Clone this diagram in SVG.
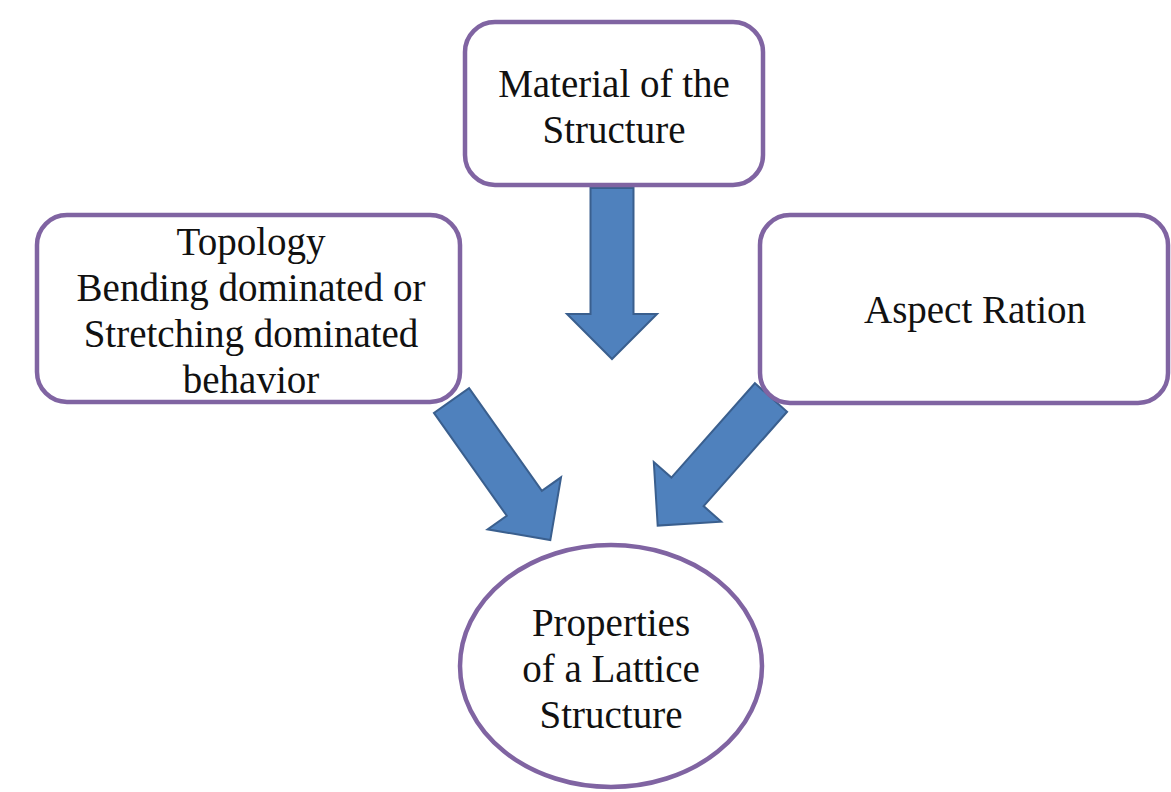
<svg xmlns="http://www.w3.org/2000/svg" xmlns:xlink="http://www.w3.org/1999/xlink" width="1171" height="792" viewBox="0 0 1171 792">
<style>
.box{fill:#fff;stroke:#8064A2;stroke-width:4.5}
.arrow{fill:#4F81BD;stroke:#3A5F8E;stroke-width:2;stroke-linejoin:miter}
.t{font-family:"Liberation Serif","Times New Roman",serif;font-size:39px;fill:#111;text-anchor:middle}
</style>
<defs>
<path id="blockArrow" d="M0,-21.5 L126,-21.5 L126,-45 L171,0 L126,45 L126,21.5 L0,21.5 Z"/>
</defs>
<rect width="1171" height="792" fill="#fff"/>
<g id="connectors">
<use xlink:href="#blockArrow" href="#blockArrow" class="arrow" transform="translate(612,188) rotate(90)"/>
<use xlink:href="#blockArrow" href="#blockArrow" class="arrow" transform="translate(451.5,400.5) rotate(54.7)"/>
<use xlink:href="#blockArrow" href="#blockArrow" class="arrow" transform="translate(771,397.5) rotate(131.5)"/>
</g>
<g id="material">
<rect class="box" x="465" y="22" width="298" height="163" rx="30" ry="30"/>
<text class="t" x="614" y="97">Material of the</text>
<text class="t" x="614" y="143">Structure</text>
</g>
<g id="topology">
<rect class="box" x="37" y="215" width="423" height="187" rx="30" ry="30"/>
<text class="t" x="251" y="255">Topology</text>
<text class="t" x="251" y="301">Bending dominated or</text>
<text class="t" x="251" y="347">Stretching dominated</text>
<text class="t" x="251" y="393">behavior</text>
</g>
<g id="aspect">
<rect class="box" x="760" y="215" width="408" height="188" rx="30" ry="30"/>
<text class="t" x="975" y="323">Aspect Ration</text>
</g>
<g id="properties">
<ellipse class="box" cx="611" cy="666" rx="151" ry="121"/>
<text class="t" x="611" y="636">Properties</text>
<text class="t" x="611" y="682">of a Lattice</text>
<text class="t" x="611" y="728">Structure</text>
</g>
</svg>
